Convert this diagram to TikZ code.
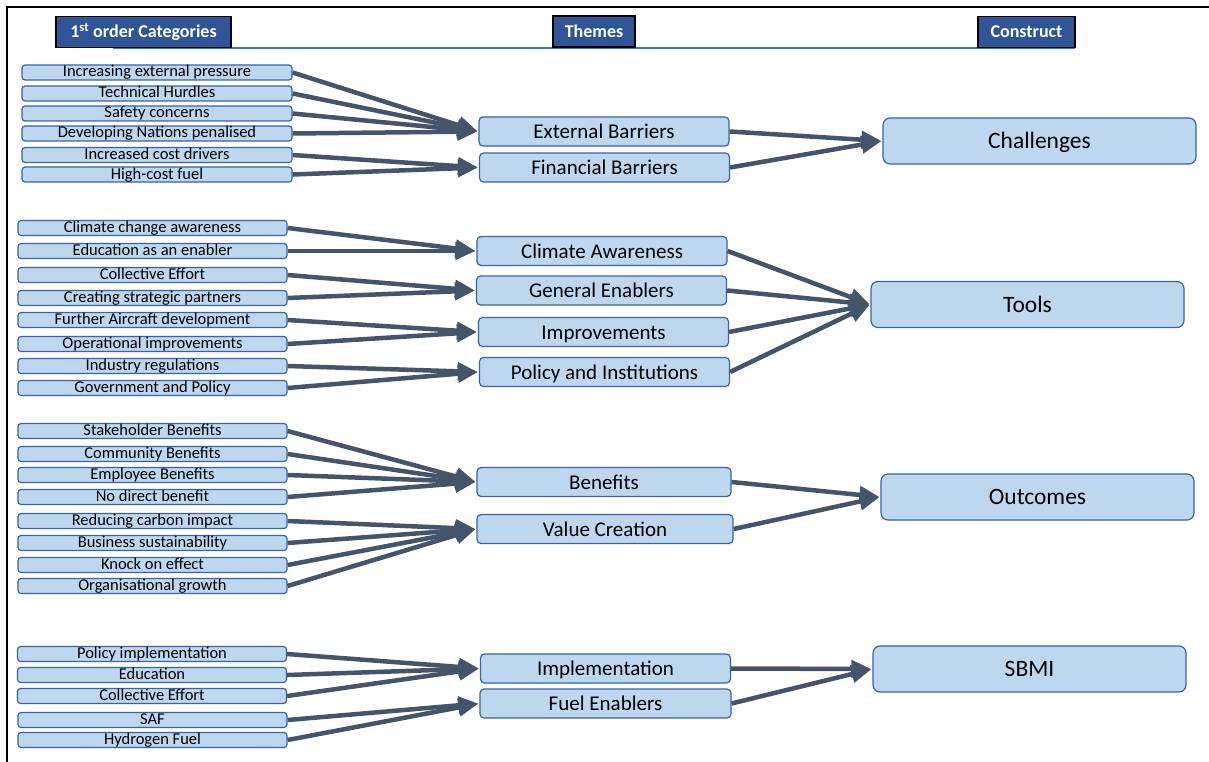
\documentclass[tikz,border=0pt]{standalone}
\usepackage{fontspec}
\setmainfont{Carlito}
\usetikzlibrary{arrows.meta}
\definecolor{tabblue}{HTML}{2F5597}
\definecolor{rule}{HTML}{4472C4}
\definecolor{boxfill}{HTML}{BDD7EE}
\definecolor{boxline}{HTML}{3A62A7}
\definecolor{arrowc}{HTML}{44546A}
\tikzset{
  leaf/.style={draw=boxline, line width=1.2pt, fill=boxfill, rounded corners=3pt,
    inner sep=0pt, minimum height=15pt, text height=12pt, text depth=3pt, text=black,
    font=\fontsize{16.5}{17}\selectfont},
  theme/.style={draw=boxline, line width=1.2pt, fill=boxfill, rounded corners=4pt,
    inner sep=0pt, minimum width=250pt, minimum height=29pt,
    text height=20pt, text depth=6pt, text=black,
    font=\fontsize{21}{23}\selectfont},
  construct/.style={draw=boxline, line width=1.2pt, fill=boxfill, rounded corners=7pt,
    inner sep=0pt, minimum width=313pt, minimum height=46pt,
    text height=22pt, text depth=7pt, text=black,
    font=\fontsize{23.5}{26}\selectfont},
  tab/.style={draw=black, line width=1.2pt, fill=tabblue, inner sep=0pt,
    minimum height=31pt, text height=15pt, text depth=3.5pt, text=white,
    font=\bfseries\fontsize{18}{20}\selectfont},
  link/.style={draw=arrowc, line width=4.5pt, -{Triangle[length=20pt,width=17pt]},
    shorten >=1pt},
}
\begin{document}
\begin{tikzpicture}[x=1pt, y=-1pt]
\useasboundingbox (0,0) rectangle (1209,762);
\fill[white] (0,0) rectangle (1209,762);
% frame
\draw[black, line width=2pt] (7,762) -- (7,7) -- (1209,7);

% header tabs and rule
\draw[rule, line width=2pt] (113,48.5) -- (1075,48.5);
\node[tab, minimum width=175pt] (h1) at (143.5,32) {1\textsuperscript{st} order Categories};
\node[tab, minimum width=82pt] (h2) at (594,31.5) {Themes};
\node[tab, minimum width=97pt] (h3) at (1026.5,32) {Construct};

% ---- Challenges ----
\begin{scope}[every node/.append style={leaf, minimum width=270pt}]
\node (a1) at (157,72.5) {Increasing external pressure};
\node (a2) at (157,93.5) {Technical Hurdles};
\node (a3) at (157,113.5) {Safety concerns};
\node (a4) at (157,133.5) {Developing Nations penalised};
\node (a5) at (157,155) {Increased cost drivers};
\node (a6) at (157,174.5) {High-cost fuel};
\end{scope}
\node[theme] (tA) at (604,131.5) {External Barriers};
\node[theme] (tB) at (604.5,167.5) {Financial Barriers};
\node[construct] (cA) at (1039.5,141) {Challenges};

% ---- Tools ----
\begin{scope}[every node/.append style={leaf, minimum width=269pt}]
\node (b1) at (152.5,228) {Climate change awareness};
\node (b2) at (152.5,251) {Education as an enabler};
\node (b3) at (152.5,275) {Collective Effort};
\node (b4) at (152.5,298) {Creating strategic partners};
\node (b5) at (152.5,320) {Further Aircraft development};
\node (b6) at (152.5,344) {Operational improvements};
\node (b7) at (152.5,366) {Industry regulations};
\node (b8) at (152.5,388) {Government and Policy};
\end{scope}
\node[theme] (tC) at (602,251) {Climate Awareness};
\node[theme] (tD) at (601.5,290.5) {General Enablers};
\node[theme] (tE) at (603.5,332) {Improvements};
\node[theme] (tF) at (604.5,372) {Policy and Institutions};
\node[construct] (cB) at (1027.5,304.5) {Tools};

% ---- Outcomes ----
\begin{scope}[every node/.append style={leaf, minimum width=269pt}]
\node (d1) at (152.5,431) {Stakeholder Benefits};
\node (d2) at (152.5,454) {Community Benefits};
\node (d3) at (152.5,475) {Employee Benefits};
\node (d4) at (152.5,497) {No direct benefit};
\node (d5) at (152.5,521) {Reducing carbon impact};
\node (d6) at (152.5,543) {Business sustainability};
\node (d7) at (152.5,565) {Knock on effect};
\node (d8) at (152.5,586) {Organisational growth};
\end{scope}
\node[theme, minimum width=254pt] (tG) at (604,482) {Benefits};
\node[theme, minimum width=256pt] (tH) at (605,529) {Value Creation};
\node[construct] (cC) at (1037.5,497) {Outcomes};

% ---- SBMI ----
\begin{scope}[every node/.append style={leaf, minimum width=269pt}]
\node (e1) at (152,654) {Policy implementation};
\node (e2) at (152,675) {Education};
\node (e3) at (152,696) {Collective Effort};
\node (e4) at (152.5,720) {SAF};
\node (e5) at (152.5,740) {Hydrogen Fuel};
\end{scope}
\node[theme] (tI) at (605.5,668.5) {Implementation};
\node[theme, minimum width=251pt] (tJ) at (605.5,703.5) {Fuel Enablers};
\node[construct] (cD) at (1029.5,669) {SBMI};

% connectors: categories to themes
\foreach \s in {a1,a2,a3,a4} \draw[link] (\s.east) -- (tA.west);
\foreach \s in {a5,a6} \draw[link] (\s.east) -- (tB.west);
\foreach \s in {b1,b2} \draw[link] (\s.east) -- (tC.west);
\foreach \s in {b3,b4} \draw[link] (\s.east) -- (tD.west);
\foreach \s in {b5,b6} \draw[link] (\s.east) -- (tE.west);
\foreach \s in {b7,b8} \draw[link] (\s.east) -- (tF.west);
\foreach \s in {d1,d2,d3,d4} \draw[link] (\s.east) -- (tG.west);
\foreach \s in {d5,d6,d7,d8} \draw[link] (\s.east) -- (tH.west);
\foreach \s in {e1,e2,e3} \draw[link] (\s.east) -- (tI.west);
\foreach \s in {e4,e5} \draw[link] (\s.east) -- (tJ.west);

% connectors: themes to constructs
\foreach \s in {tA,tB} \draw[link] (\s.east) -- (cA.west);
\foreach \s in {tC,tD,tE,tF} \draw[link] (\s.east) -- (cB.west);
\foreach \s in {tG,tH} \draw[link] (\s.east) -- (cC.west);
\foreach \s in {tI,tJ} \draw[link] (\s.east) -- (cD.west);
\end{tikzpicture}
\end{document}
